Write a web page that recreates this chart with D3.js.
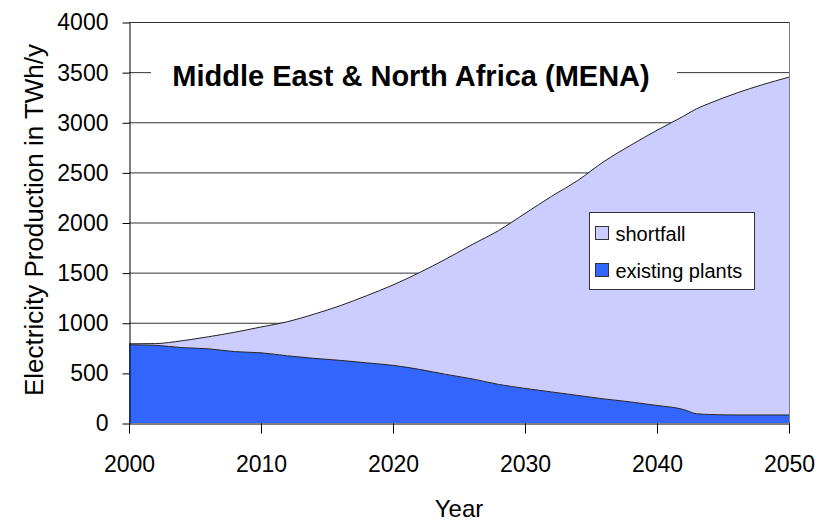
<!DOCTYPE html>
<html>
<head>
<meta charset="utf-8">
<script src="https://cdn.jsdelivr.net/npm/d3@7"></script>
<style>
  body { margin: 0; background: #fff; }
  svg { display: block; font-family: "Liberation Sans", Arial, sans-serif; }
</style>
</head>
<body>
<div id="chart"></div>
<script>

var years = [2000, 2002, 2004, 2006, 2008, 2010, 2012, 2014, 2016, 2018, 2020, 2022, 2024,
    2026, 2028, 2030, 2032, 2034, 2036, 2038, 2040, 2042, 2043, 2044, 2046, 2048, 2050];

// TWh/y
var existingPlants = [780, 775, 752, 740, 712, 700, 670, 645, 625, 600, 575, 535, 485,
    440, 385, 345, 310, 275, 240, 210, 175, 135, 92, 85, 80, 80, 80];
var shortfall = [10, 17, 68, 120, 193, 258, 340, 440, 545, 670, 802, 965, 1150,
    1340, 1535, 1745, 1950, 2145, 2370, 2560, 2745, 2925, 3043, 3105, 3210, 3295, 3370];

var yTicks = [0, 500, 1000, 1500, 2000, 2500, 3000, 3500, 4000];
var xTicks = [2000, 2010, 2020, 2030, 2040, 2050];
var seriesNames = ["existing plants", "shortfall"];
var seriesColors = ["#3366ff", "#ccccff"];

var width = 833,
    height = 522;

var margin = { left: 129, right: 44, top: 22, bottom: 99 };

var svg = d3.select("#chart")
    .append("svg")
    .attr("width", width)
    .attr("height", height);

var x = d3.scaleLinear()
    .domain([2000, 2050])
    .range([margin.left, width - margin.right]);

var y = d3.scaleLinear()
    .domain([0, 4000])
    .range([height - margin.bottom, margin.top]);

var rows = years.map(function (yr, i) {
    return { year: yr, "existing plants": existingPlants[i], "shortfall": shortfall[i] };
});

var stacked = d3.stack().keys(seriesNames)(rows);

// gridlines (drawn first, the areas cover them)
svg.append("g")
    .selectAll("line")
    .data(yTicks.filter(function (d) { return d > 0; }))
    .enter()
    .append("line")
    .attr("x1", x(2000))
    .attr("x2", x(2050))
    .attr("y1", function (d) { return y(d) + 0.5; })
    .attr("y2", function (d) { return y(d) + 0.5; })
    .attr("stroke", "#333")
    .attr("stroke-width", 1);

// white box behind the title
svg.append("rect")
    .attr("x", 151)
    .attr("y", 56)
    .attr("width", 526)
    .attr("height", 38)
    .attr("fill", "#fff");

svg.append("text")
    .attr("x", 411)
    .attr("y", 86)
    .attr("text-anchor", "middle")
    .style("font-size", "29px")
    .style("font-weight", "bold")
    .text("Middle East & North Africa (MENA)");

var area = d3.area()
    .curve(d3.curveMonotoneX)
    .x(function (d) { return x(d.data.year); })
    .y0(function (d) { return y(d[0]); })
    .y1(function (d) { return y(d[1]); });

var topLine = d3.line()
    .curve(d3.curveMonotoneX)
    .x(function (d) { return x(d.data.year); })
    .y(function (d) { return y(d[1]); });

svg.append("g")
    .selectAll("path")
    .data(stacked)
    .enter()
    .append("path")
    .attr("d", area)
    .attr("fill", function (d, i) { return seriesColors[i]; });

svg.append("g")
    .selectAll("path")
    .data(stacked)
    .enter()
    .append("path")
    .attr("d", topLine)
    .attr("fill", "none")
    .attr("stroke", "#222")
    .attr("stroke-width", 1);

// right border of the plot area
svg.append("line")
    .attr("x1", x(2050) + 0.5)
    .attr("x2", x(2050) + 0.5)
    .attr("y1", y(4000))
    .attr("y2", y(0) + 10)
    .attr("stroke", "#808080");

var yAxis = svg.append("g")
    .attr("transform", "translate(" + (margin.left + 0.5) + ",0.5)")
    .call(d3.axisLeft(y).tickValues(yTicks).tickFormat(d3.format("d"))
        .tickSize(7).tickSizeOuter(0).tickPadding(14));

var xAxis = svg.append("g")
    .attr("transform", "translate(0," + (y(0) + 0.5) + ")")
    .call(d3.axisBottom(x).tickValues(xTicks).tickFormat(d3.format("d"))
        .tickSize(10).tickSizeOuter(0).tickPadding(22));

[yAxis, xAxis].forEach(function (ax) {
    ax.selectAll("path, line").attr("stroke", "#000");
    ax.selectAll("text")
        .attr("fill", "#000")
        .style("font-family", "'Liberation Sans', Arial, sans-serif")
        .style("font-size", "23px");
});

svg.append("text")
    .attr("transform", "translate(43,220) rotate(-90)")
    .attr("text-anchor", "middle")
    .style("font-size", "26px")
    .text("Electricity Production in TWh/y");

svg.append("text")
    .attr("x", (x(2000) + x(2050)) / 2)
    .attr("y", 517)
    .attr("text-anchor", "middle")
    .style("font-size", "24px")
    .text("Year");

// legend
var legend = svg.append("g")
    .attr("transform", "translate(589.5,212.5)");

legend.append("rect")
    .attr("width", 165)
    .attr("height", 77)
    .attr("fill", "#fff")
    .attr("stroke", "#333");

var legendItems = ["shortfall", "existing plants"];

legend.selectAll("rect.swatch")
    .data(legendItems)
    .enter()
    .append("rect")
    .attr("class", "swatch")
    .attr("x", 6)
    .attr("y", function (d, i) { return 14 + i * 37; })
    .attr("width", 13)
    .attr("height", 13)
    .attr("fill", function (d) { return seriesColors[seriesNames.indexOf(d)]; })
    .attr("stroke", "#333");

legend.selectAll("text")
    .data(legendItems)
    .enter()
    .append("text")
    .attr("x", 26)
    .attr("y", function (d, i) { return 28 + i * 37; })
    .style("font-size", "20px")
    .text(function (d) { return d; });

</script>
</body>
</html>
